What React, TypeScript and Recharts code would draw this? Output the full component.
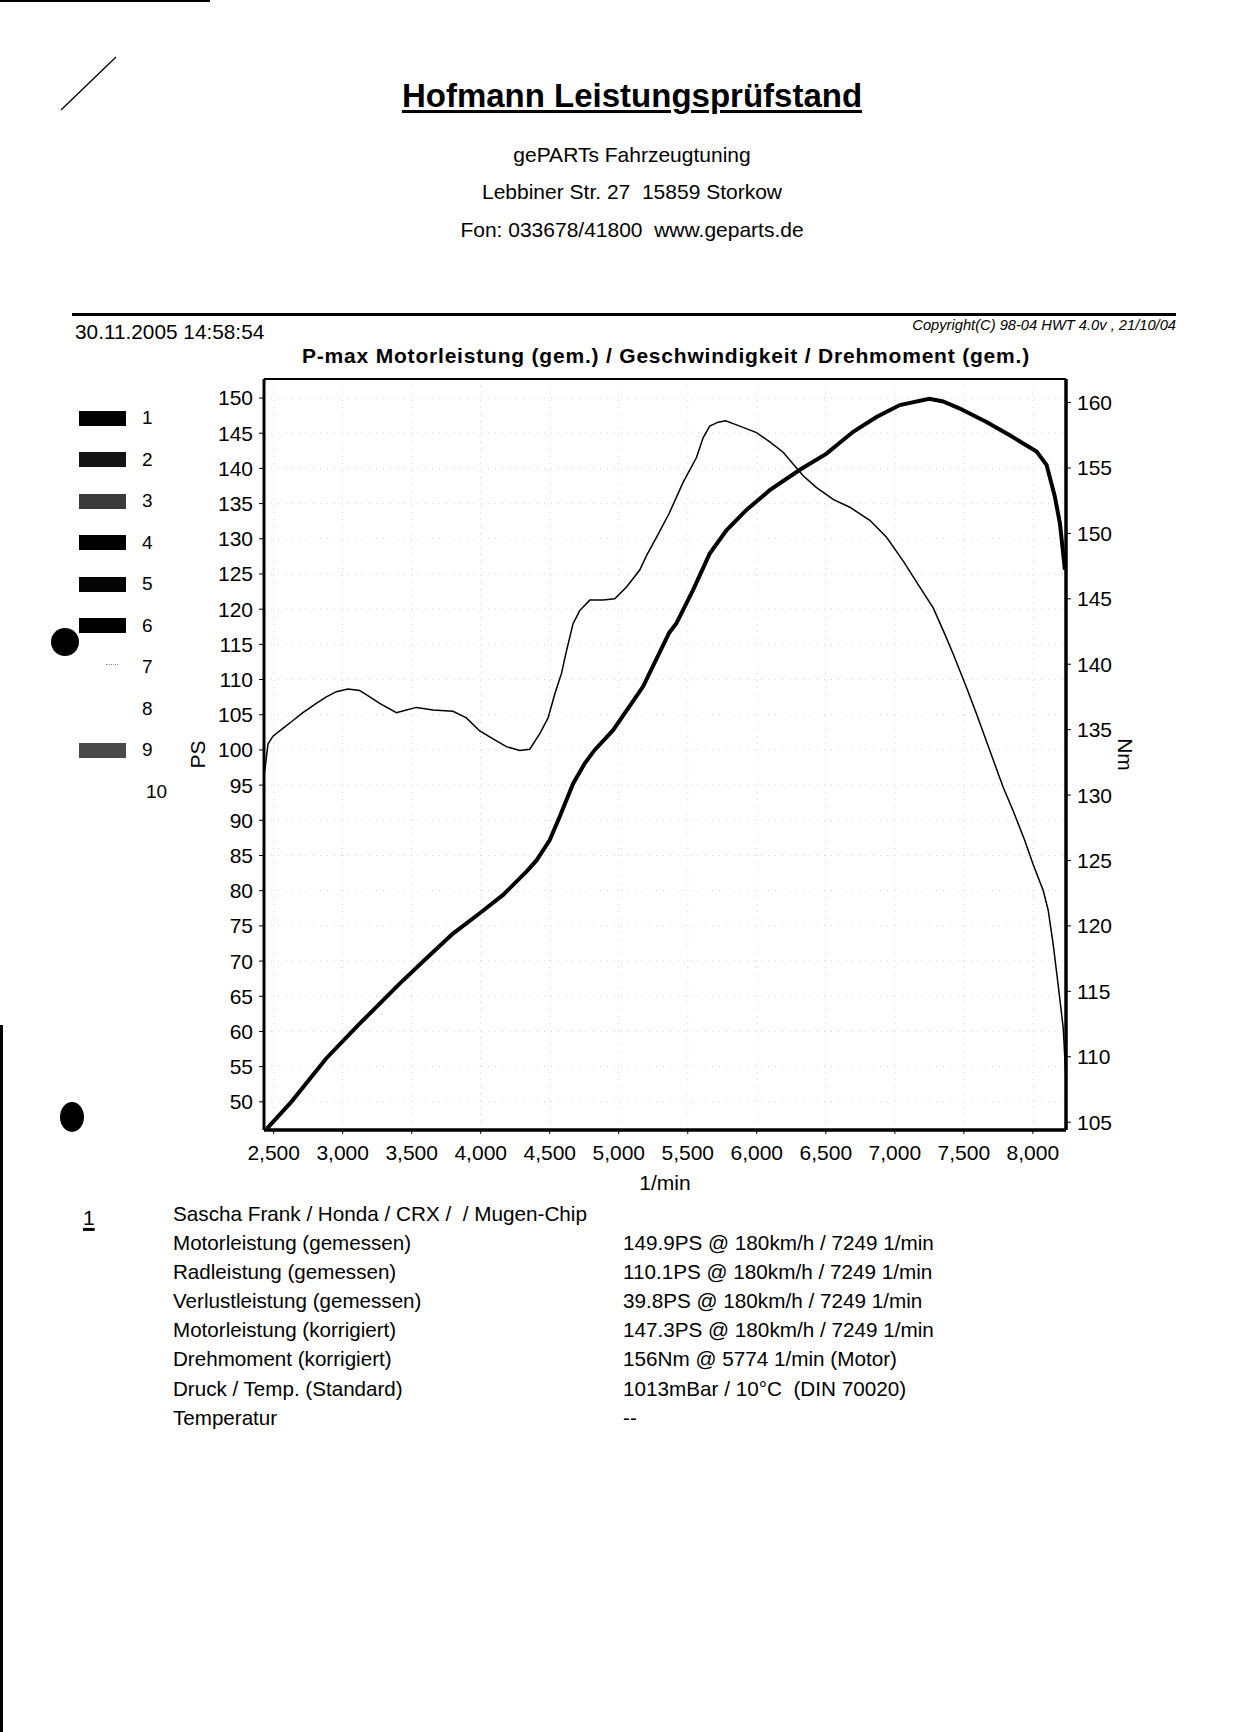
import React from 'react';
import {
  ComposedChart,
  Line,
  XAxis,
  YAxis,
  CartesianGrid,
  ReferenceLine,
  Label,
} from 'recharts';

// ---- Data (read from the dyno sheet) ----
const powerRpm = [2451, 2628, 2882, 3123, 3413, 3607, 3799, 3993, 4162, 4331, 4404, 4500, 4572, 4669, 4754, 4826, 4959, 5176, 5364, 5418, 5538, 5659, 5780, 5925, 6094, 6312, 6505, 6698, 6867, 7036, 7249, 7350, 7471, 7664, 7833, 8027, 8099, 8159, 8196, 8232];
const powerPS = [46.2, 50.0, 56.2, 61.1, 66.8, 70.4, 73.9, 76.8, 79.4, 82.7, 84.3, 87.2, 90.5, 95.2, 98.1, 100.0, 102.8, 109.0, 116.6, 118.0, 122.7, 127.9, 131.2, 134.1, 136.9, 139.8, 142.1, 145.2, 147.3, 149.0, 149.9, 149.5, 148.5, 146.6, 144.7, 142.4, 140.5, 136.0, 132.2, 125.6];

const torqueRpm = [2435, 2459, 2495, 2567, 2640, 2712, 2809, 2882, 2954, 3038, 3123, 3196, 3268, 3389, 3462, 3534, 3654, 3799, 3896, 3993, 4089, 4186, 4283, 4355, 4428, 4488, 4536, 4585, 4621, 4669, 4717, 4790, 4886, 4971, 5056, 5152, 5201, 5273, 5364, 5466, 5563, 5611, 5659, 5720, 5774, 5877, 5998, 6094, 6191, 6263, 6336, 6433, 6553, 6674, 6819, 6940, 7060, 7181, 7278, 7362, 7422, 7520, 7592, 7688, 7785, 7857, 7942, 8002, 8075, 8111, 8147, 8183, 8220, 8239];
const torqueNm = [131.8, 133.9, 134.5, 135.1, 135.7, 136.3, 137.0, 137.5, 137.9, 138.1, 138.0, 137.5, 137.0, 136.3, 136.5, 136.7, 136.5, 136.4, 135.9, 134.9, 134.3, 133.7, 133.4, 133.5, 134.7, 135.9, 137.7, 139.3, 141.0, 143.1, 144.1, 144.9, 144.9, 145.0, 145.9, 147.2, 148.3, 149.7, 151.5, 153.9, 155.8, 157.3, 158.2, 158.5, 158.6, 158.2, 157.7, 157.0, 156.2, 155.3, 154.4, 153.5, 152.6, 152.0, 151.0, 149.7, 147.9, 145.9, 144.3, 142.3, 140.8, 138.2, 136.2, 133.4, 130.6, 128.8, 126.5, 124.7, 122.7, 121.2, 118.6, 115.5, 112.2, 108.4];

const rpmTicks = [2500, 3000, 3500, 4000, 4500, 5000, 5500, 6000, 6500, 7000, 7500, 8000];
const psTicks = [50, 55, 60, 65, 70, 75, 80, 85, 90, 95, 100, 105, 110, 115, 120, 125, 130, 135, 140, 145, 150];
const nmTicks = [105, 110, 115, 120, 125, 130, 135, 140, 145, 150, 155, 160];

const legendNumbers = ['1', '2', '3', '4', '5', '6', '7', '8', '9', '10'];
const legendColors = ['#000', '#141414', '#3a3a3a', '#000', '#050505', '#000', 'dots', null, '#4a4a4a', null];

const resultLabels = [
  'Motorleistung (gemessen)',
  'Radleistung (gemessen)',
  'Verlustleistung (gemessen)',
  'Motorleistung (korrigiert)',
  'Drehmoment (korrigiert)',
  'Druck / Temp. (Standard)',
  'Temperatur',
];
const resultValues = [
  '149.9PS @ 180km/h / 7249 1/min',
  '110.1PS @ 180km/h / 7249 1/min',
  '39.8PS @ 180km/h / 7249 1/min',
  '147.3PS @ 180km/h / 7249 1/min',
  '156Nm @ 5774 1/min (Motor)',
  '1013mBar / 10°C  (DIN 70020)',
  '--',
];

const powerData = powerRpm.map((r, i) => ({ rpm: r, ps: powerPS[i] }));
const torqueData = torqueRpm.map((r, i) => ({ rpm: r, nm: torqueNm[i] }));

const FONT = "'Liberation Sans', Arial, Helvetica, sans-serif";

type TxtProps = {
  x: number;
  y: number;
  size?: number;
  anchor?: 'left' | 'center' | 'right';
  bold?: boolean;
  italic?: boolean;
  underline?: boolean;
  spacing?: number;
  children: React.ReactNode;
};

const Txt = ({ x, y, size = 20, anchor = 'left', bold, italic, underline, spacing, children }: TxtProps) => (
  <div
    style={{
      position: 'absolute',
      left: x,
      top: y,
      transform:
        anchor === 'center' ? 'translate(-50%,-50%)' : anchor === 'right' ? 'translate(-100%,-50%)' : 'translateY(-50%)',
      fontSize: size,
      fontWeight: bold ? 700 : 400,
      fontStyle: italic ? 'italic' : 'normal',
      textDecoration: underline ? 'underline' : 'none',
      textDecorationThickness: underline ? 3 : undefined,
      textUnderlineOffset: underline ? 3 : undefined,
      letterSpacing: spacing,
      whiteSpace: 'pre',
      lineHeight: 1.15,
      color: '#000',
      fontFamily: FONT,
    }}
  >
    {children}
  </div>
);

const fmtRpm = (v: number) => v.toLocaleString('en-US');

export default function App() {
  return (
    <div
      style={{
        position: 'absolute',
        left: 0,
        top: 0,
        width: 1238,
        height: 1732,
        background: '#fff',
        overflow: 'hidden',
        fontFamily: FONT,
      }}
    >
      {/* scan artifacts */}
      <svg width={1238} height={1732} style={{ position: 'absolute', left: 0, top: 0 }}>
        <rect x={0} y={0} width={210} height={2} fill="#000" />
        <line x1={116} y1={57} x2={61} y2={110} stroke="#000" strokeWidth={1.3} />
        <circle cx={65} cy={642} r={14} fill="#000" />
        <ellipse cx={72} cy={1117} rx={12} ry={15} fill="#000" />
        <rect x={0} y={1025} width={3} height={707} fill="#000" />
        <rect x={72} y={313} width={1104} height={3} fill="#000" />
      </svg>

      {/* header */}
      <Txt x={632} y={96} size={33} anchor="center" bold underline>
        Hofmann Leistungsprüfstand
      </Txt>
      <Txt x={632} y={155} size={21} anchor="center">gePARTs Fahrzeugtuning</Txt>
      <Txt x={632} y={192} size={21} anchor="center">Lebbiner Str. 27  15859 Storkow</Txt>
      <Txt x={632} y={230} size={21} anchor="center">Fon: 033678/41800  www.geparts.de</Txt>

      <Txt x={75} y={332} size={20.8}>30.11.2005 14:58:54</Txt>
      <Txt x={1176} y={325} size={14.7} anchor="right" italic>
        Copyright(C) 98-04 HWT 4.0v , 21/10/04
      </Txt>
      <Txt x={666} y={356} size={21} anchor="center" bold spacing={0.8}>
        P-max Motorleistung (gem.) / Geschwindigkeit / Drehmoment (gem.)
      </Txt>

      {/* legend of runs */}
      {legendNumbers.map((n, i) => {
        const cy = 418 + i * 41.5;
        const c = legendColors[i];
        return (
          <React.Fragment key={n}>
            {c && c !== 'dots' && (
              <div
                style={{
                  position: 'absolute',
                  left: 79,
                  top: cy - 7.5,
                  width: 47,
                  height: 15,
                  background: c,
                }}
              />
            )}
            {c === 'dots' && (
              <div
                style={{
                  position: 'absolute',
                  left: 106,
                  top: cy - 3,
                  width: 12,
                  height: 5,
                  borderTop: '1px dotted #999',
                }}
              />
            )}
            <Txt x={n === '10' ? 146 : 142} y={cy} size={19}>
              {n}
            </Txt>
          </React.Fragment>
        );
      })}

      {/* chart */}
      <div style={{ position: 'absolute', left: 0, top: 370 }}>
        <ComposedChart
          width={1238}
          height={850}
          margin={{ top: 9, right: 112, left: 194, bottom: 30 }}
          style={{ fontFamily: FONT }}
        >
          <CartesianGrid
            yAxisId="ps"
            stroke="#d2d2d2"
            strokeDasharray="1 6"
            horizontalValues={psTicks}
            verticalValues={rpmTicks}
          />
          <XAxis
            type="number"
            dataKey="rpm"
            domain={[2430, 8240]}
            ticks={rpmTicks}
            allowDataOverflow
            tickFormatter={fmtRpm}
            height={60}
            tickSize={4}
            tickMargin={11}
            axisLine={{ stroke: '#000', strokeWidth: 3.5 }}
            tickLine={{ stroke: '#000' }}
            tick={{ fill: '#000', fontSize: 21 }}
          >
            <Label value="1/min" position="insideBottom" offset={0} fill="#000" fontSize={21} />
          </XAxis>
          <YAxis
            yAxisId="ps"
            orientation="left"
            type="number"
            domain={[46, 152.7]}
            ticks={psTicks}
            allowDataOverflow
            width={70}
            tickSize={5}
            tickMargin={6}
            axisLine={{ stroke: '#000', strokeWidth: 3 }}
            tickLine={{ stroke: '#000' }}
            tick={{ fill: '#000', fontSize: 21 }}
          >
            <Label value="PS" position="center" angle={-90} dx={-31} fill="#000" fontSize={21} />
          </YAxis>
          <YAxis
            yAxisId="nm"
            orientation="right"
            type="number"
            domain={[104.4, 161.8]}
            ticks={nmTicks}
            allowDataOverflow
            width={60}
            tickSize={5}
            tickMargin={6}
            axisLine={{ stroke: '#000', strokeWidth: 3.5 }}
            tickLine={{ stroke: '#000' }}
            tick={{ fill: '#000', fontSize: 21 }}
          >
            <Label value="Nm" position="center" angle={90} dx={29} fill="#000" fontSize={21} />
          </YAxis>
          <ReferenceLine yAxisId="ps" y={152.7} stroke="#000" strokeWidth={2} />
          <Line
            yAxisId="nm"
            data={torqueData}
            dataKey="nm"
            type="linear"
            stroke="#000"
            strokeWidth={1.5}
            dot={false}
            isAnimationActive={false}
          />
          <Line
            yAxisId="ps"
            data={powerData}
            dataKey="ps"
            type="linear"
            stroke="#000"
            strokeWidth={4}
            dot={false}
            isAnimationActive={false}
          />
        </ComposedChart>
      </div>

      {/* results block */}
      <Txt x={83} y={1218} size={21} underline>
        1
      </Txt>
      <Txt x={173} y={1214} size={20.7}>Sascha Frank / Honda / CRX /  / Mugen-Chip</Txt>
      {resultLabels.map((l, i) => (
        <Txt key={l} x={173} y={1243 + i * 29.1} size={20.6}>
          {l}
        </Txt>
      ))}
      {resultValues.map((v, i) => (
        <Txt key={v} x={623} y={1243 + i * 29.1} size={20.7}>
          {v}
        </Txt>
      ))}
    </div>
  );
}
